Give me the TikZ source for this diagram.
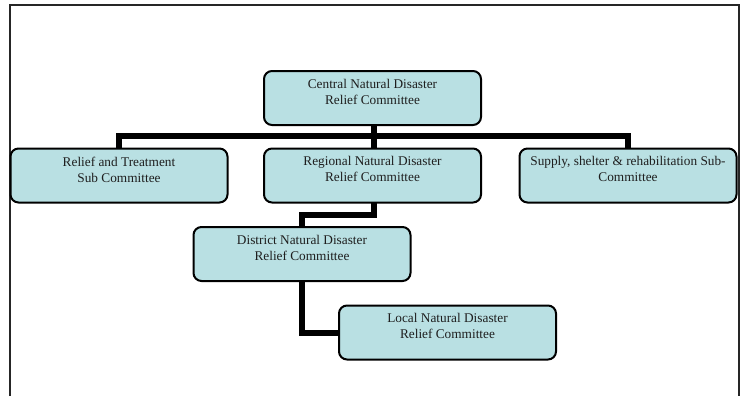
\documentclass[tikz,border=0pt]{standalone}
\usepackage{fontspec}
\setmainfont{Liberation Serif}
\definecolor{boxfill}{RGB}{185,224,227}
\definecolor{txt}{RGB}{30,30,30}
\begin{document}
\begin{tikzpicture}[x=1pt,y=-1pt,
  orgbox/.style={draw=black, line width=2pt, rounded corners=8pt, fill=boxfill,
    minimum width=215pt, minimum height=52pt, inner sep=0pt},
  orgtext/.style={anchor=north, inner sep=0pt, align=center, text=txt,
    font=\fontsize{13.3}{16}\selectfont},
  link/.style={line width=6pt, black}]
\useasboundingbox (0,0) rectangle (741,396);
% frame
\draw[line width=1.8pt, black!85] (10,396) -- (10,5) -- (739,5) -- (739,396);
% boxes
\node[orgbox] (central) at (372.5,98) {};
\node[orgbox] (relief) at (119,175.5) {};
\node[orgbox] (regional) at (372.5,175.5) {};
\node[orgbox] (supply) at (628,175.5) {};
\node[orgbox] (district) at (302,254) {};
\node[orgbox] (local) at (447.5,332.5) {};
% connectors
\coordinate (bus) at (374,136);
\draw[link] (central.south -| bus) -- (bus);
\draw[link] (relief.north) -- (relief.north |- bus) -- (supply.north |- bus) -- (supply.north);
\draw[link] (bus) -- (regional.north -| bus);
\coordinate (mid) at (374,215);
\draw[link] (regional.south -| mid) -- (mid) -- (mid -| district.north) -- (district.north);
\draw[link] (district.south) -- (district.south |- local.west) -- (local.west);
% redraw boxes on top
\foreach \n in {central,relief,regional,supply,district,local}{
  \draw[line width=2pt, rounded corners=8pt, fill=boxfill] (\n.north west) rectangle (\n.south east);
}
% texts
\node[orgtext] (centralT) at ([yshift=-8pt]central.north) {Central Natural Disaster\\Relief Committee};
\node[orgtext] (reliefT) at ([yshift=-8pt]relief.north) {Relief and Treatment\\Sub Committee};
\node[orgtext] (regionalT) at ([yshift=-8pt]regional.north) {Regional Natural Disaster\\Relief Committee};
\node[orgtext] (supplyT) at ([yshift=-8pt]supply.north) {Supply, shelter \& rehabilitation Sub-\\Committee};
\node[orgtext] (districtT) at ([yshift=-8pt]district.north) {District Natural Disaster\\Relief Committee};
\node[orgtext] (localT) at ([yshift=-8pt]local.north) {Local Natural Disaster\\Relief Committee};
\end{tikzpicture}
\end{document}
